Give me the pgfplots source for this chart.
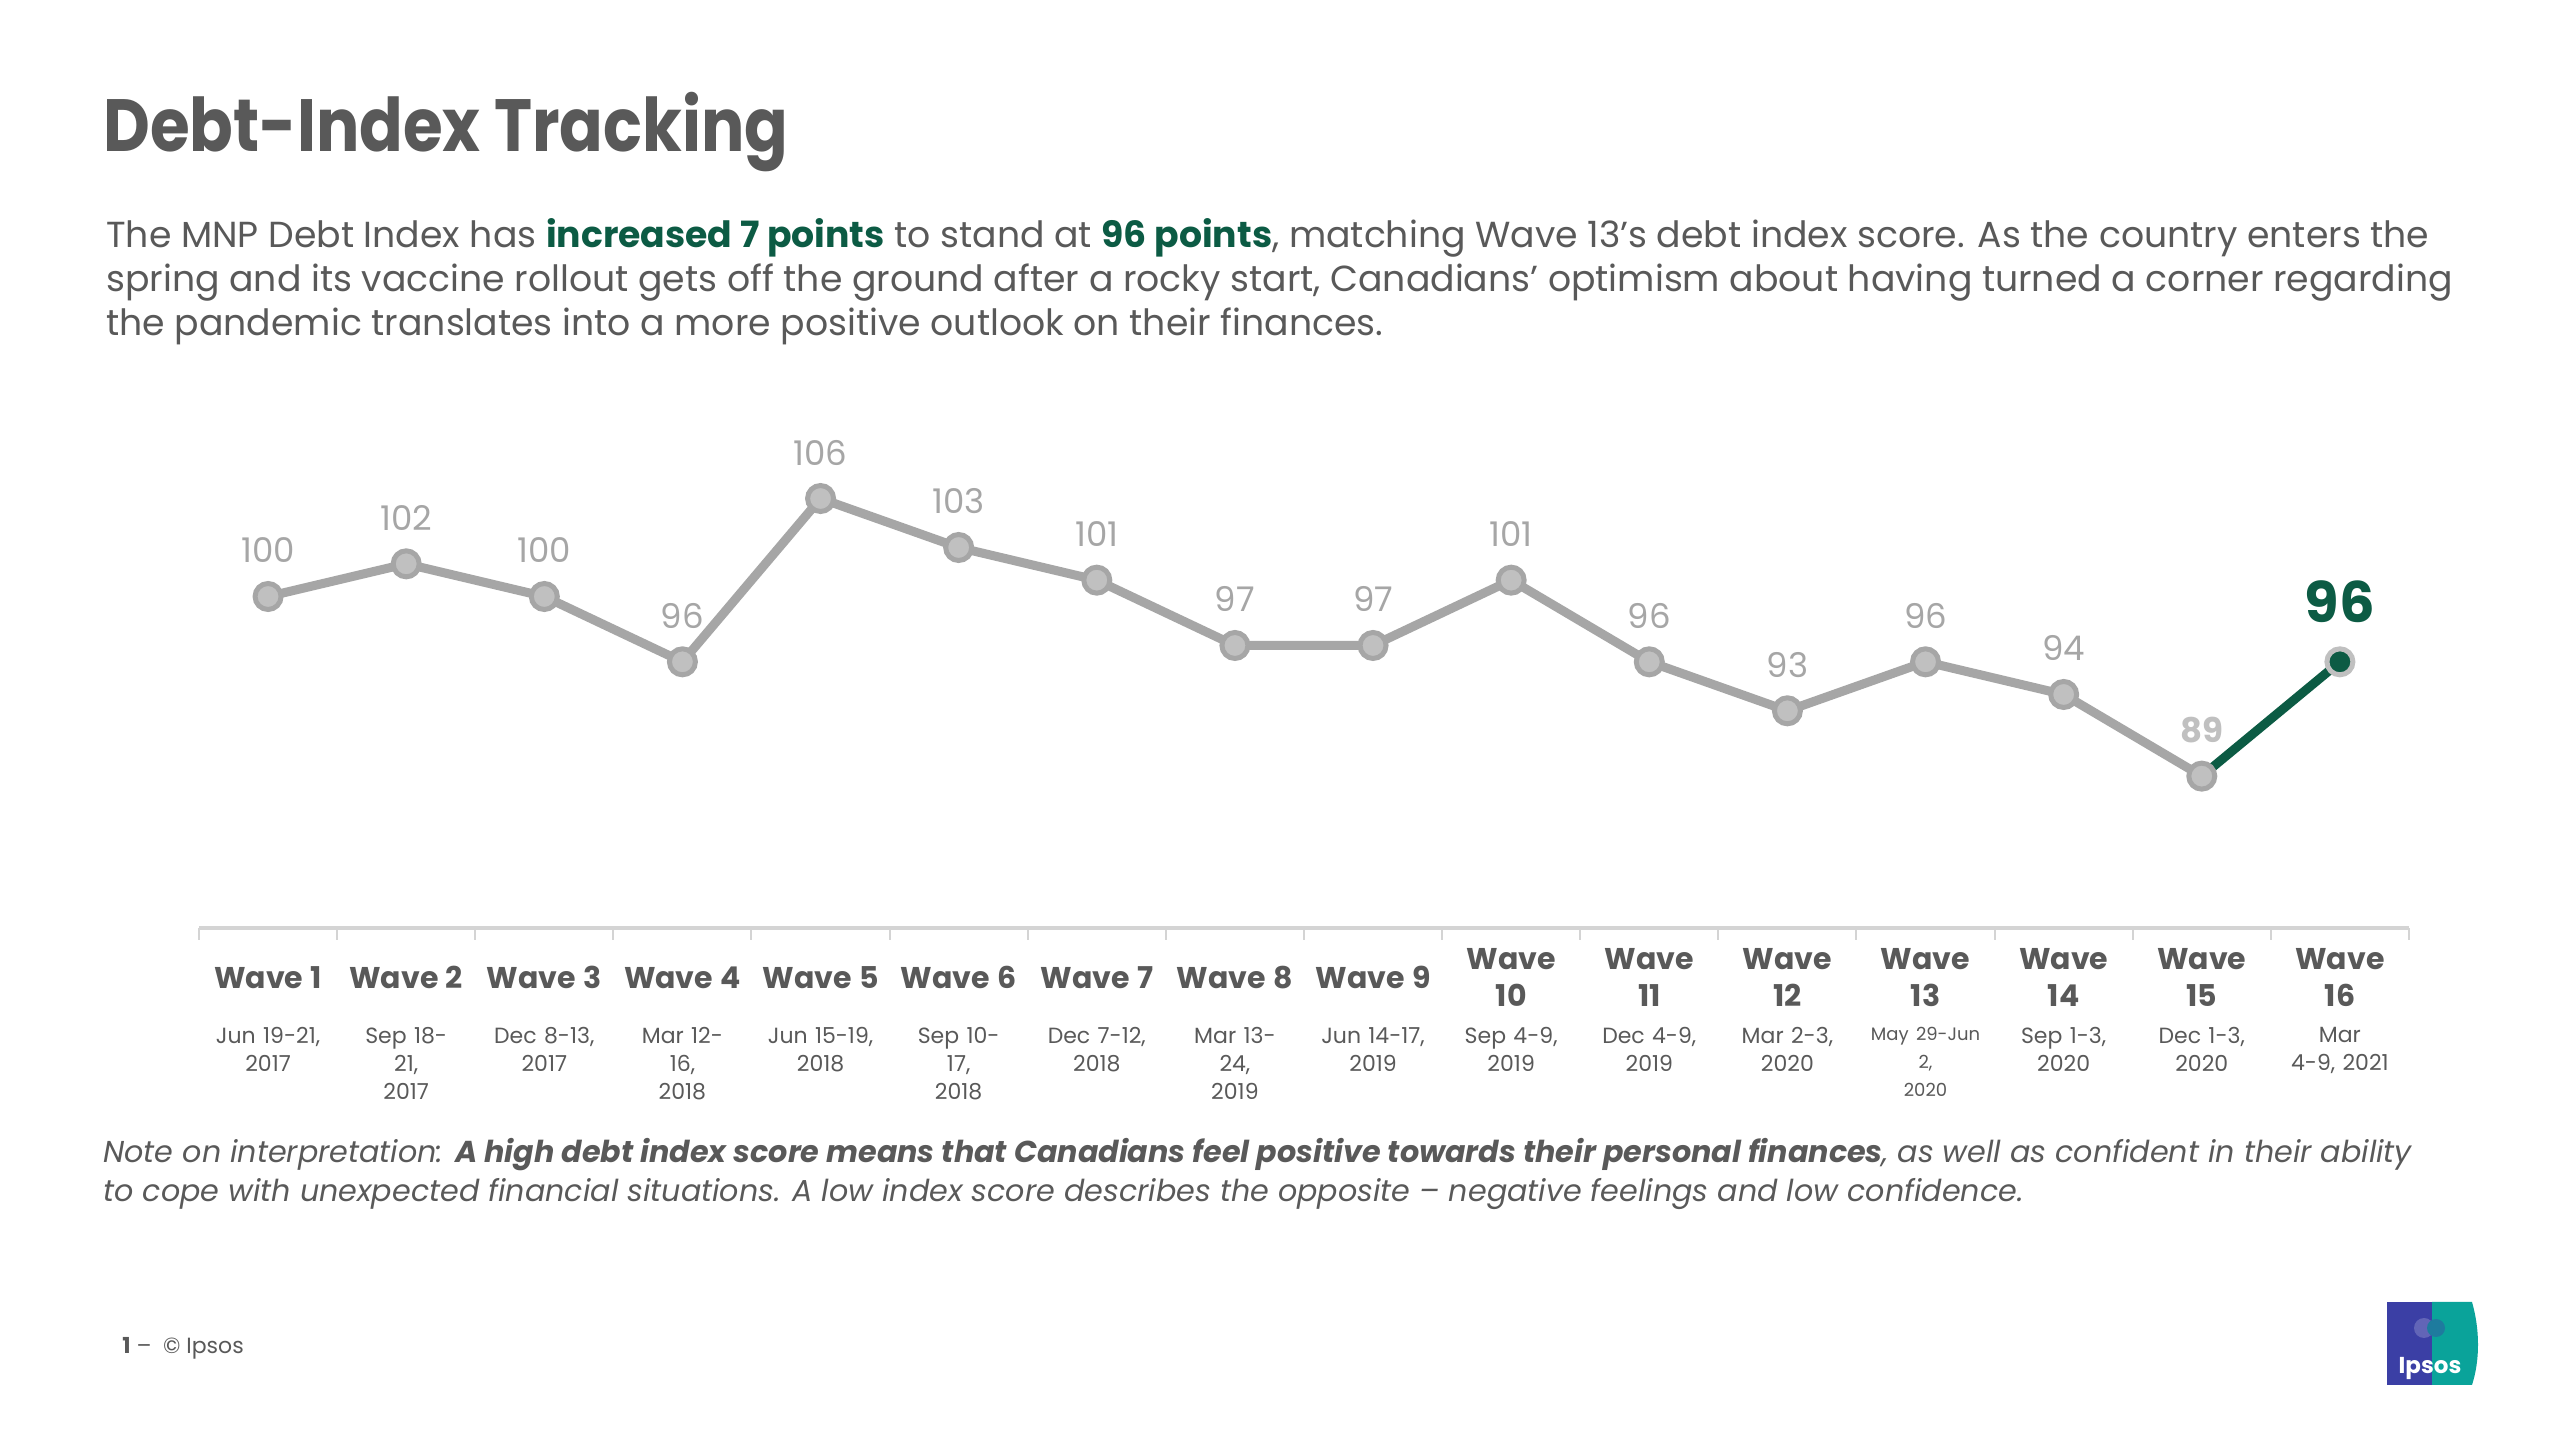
\documentclass[border=0pt]{standalone}
\usepackage{fontspec}
\setmainfont{Poppins}
\newfontfamily\titlefont[FakeStretch=0.87]{Poppins}
\usepackage{pgfplots}
\pgfplotsset{compat=1.18}
\definecolor{txt}{HTML}{595959}
\definecolor{grn}{HTML}{0C5B44}
\definecolor{lgray}{HTML}{A6A6A6}
\definecolor{mfill}{HTML}{C0C0C0}
\definecolor{axgray}{HTML}{D4D4D4}
\definecolor{ipblue}{HTML}{3B3FA5}
\definecolor{ipteal}{HTML}{0AA39A}
\newcommand{\wv}[2]{\parbox[c][40pt][c]{72pt}{\centering\bfseries\fontsize{15}{18.8}\selectfont #1}\\[4pt]#2}
\begin{document}
\begin{tikzpicture}
\path[fill=white] (0pt,0pt) rectangle (1280pt,720pt);
% title
\node[anchor=base west, inner sep=0pt, text=txt, font=\titlefont\fontsize{37}{44}\selectfont\bfseries] at (51.5pt,644pt) {Debt-Index Tracking};
% paragraph
\begin{scope}[every node/.style={anchor=base west, inner sep=0pt, text=txt, font=\fontsize{18.1}{22}\selectfont}]
\node at (53pt,596pt) {The MNP Debt Index has \textcolor{grn}{\bfseries increased 7 points} to stand at \textcolor{grn}{\bfseries 96 points}, matching Wave 13’s debt index score. As the country enters the};
\node at (53pt,574pt) {spring and its vaccine rollout gets off the ground after a rocky start, Canadians’ optimism about having turned a corner regarding};
\node at (53pt,552pt) {the pandemic translates into a more positive outlook on their finances.};
\end{scope}
\begin{axis}[
  at={(99.5pt,256pt)}, anchor=south west,
  scale only axis, width=1105pt, height=247.4pt,
  xmin=0.5, xmax=16.5, ymin=79.7, ymax=110,
  axis x line*=bottom, axis y line=none,
  axis line style={axgray, line width=2pt},
  clip=false,
  xtick={1,...,16}, major tick length=0pt,
  minor xtick={0.5,1.5,...,16.5}, minor tick length=6pt,
  tick align=outside,
  minor tick style={axgray, line width=1pt},
  xticklabel style={font=\fontsize{11}{13.9}\selectfont, text=txt, text width=72pt, align=center, anchor=north, inner sep=0pt, yshift=-4.5pt},
  xticklabels={
    {\wv{Wave 1}{Jun 19-21,\\2017}},
    {\wv{Wave 2}{Sep 18-\\21,\\2017}},
    {\wv{Wave 3}{Dec 8-13,\\2017}},
    {\wv{Wave 4}{Mar 12-\\16,\\2018}},
    {\wv{Wave 5}{Jun 15-19,\\2018}},
    {\wv{Wave 6}{Sep 10-\\17,\\2018}},
    {\wv{Wave 7}{Dec 7-12,\\2018}},
    {\wv{Wave 8}{Mar 13-\\24,\\2019}},
    {\wv{Wave 9}{Jun 14-17,\\2019}},
    {\wv{Wave\\10}{Sep 4-9,\\2019}},
    {\wv{Wave\\11}{Dec 4-9,\\2019}},
    {\wv{Wave\\12}{Mar 2-3,\\2020}},
    {\wv{Wave\\13}{{\fontsize{9}{11}\selectfont May 29-Jun}\\{\fontsize{9}{11}\selectfont 2,}\\{\fontsize{9}{11}\selectfont 2020}}},
    {\wv{Wave\\14}{Sep 1-3,\\2020}},
    {\wv{Wave\\15}{Dec 1-3,\\2020}},
    {\wv{Wave\\16}{Mar\\4-9, 2021}}
  },
]
\addplot[lgray, line width=4.5pt, line join=round] coordinates {
(1,100) (2,102) (3,100) (4,96) (5,106) (6,103) (7,101) (8,97) (9,97) (10,101) (11,96) (12,93) (13,96) (14,94) (15,89)};
\addplot[grn, line width=4.5pt] coordinates {(15,89) (16,96)};
\addplot[only marks, mark=*, mark size=6.5pt, mark options={draw=lgray, fill=mfill, line width=2.5pt},
  nodes near coords, point meta=explicit symbolic,
  every node near coord/.append style={anchor=center, yshift=23pt, text=lgray, font=\fontsize{17}{20}\selectfont}]
coordinates {
(1,100) [100] (2,102) [102] (3,100) [100] (4,96) [96] (5,106) [106] (6,103) [103] (7,101) [101] (8,97) [97] (9,97) [97] (10,101) [101] (11,96) [96] (12,93) [93] (13,96) [96] (14,94) [94]};
\addplot[only marks, mark=*, mark size=6.5pt, mark options={draw=lgray, fill=mfill, line width=2.5pt},
  nodes near coords, point meta=explicit symbolic,
  every node near coord/.append style={anchor=center, yshift=23pt, text=mfill, font=\fontsize{17}{20}\selectfont\bfseries}]
coordinates {(15,89) [89]};
\addplot[only marks, mark=*, mark size=6.5pt, mark options={draw=mfill, fill=grn, line width=2.5pt},
  nodes near coords, point meta=explicit symbolic,
  every node near coord/.append style={anchor=center, yshift=30pt, text=grn, font=\fontsize{28}{32}\selectfont\bfseries}]
coordinates {(16,96) [96]};
\end{axis}
% note
\begin{scope}[every node/.style={anchor=base west, inner sep=0pt, text=txt, font=\fontsize{15.1}{19}\selectfont\itshape}]
\node at (51.5pt,138.5pt) {Note on interpretation: {\bfseries A high debt index score means that Canadians feel positive towards their personal finances}, as well as confident in their ability};
\node at (51.5pt,119pt) {to cope with unexpected financial situations. A low index score describes the opposite – negative feelings and low confidence.};
\end{scope}
% footer
\node[anchor=base west, inner sep=0pt, text=txt, font=\fontsize{11}{13}\selectfont] at (61pt,43pt) {\textbf{1} –\ \ © Ipsos};
% logo
\fill[ipblue] (1193.5pt,27.5pt) rectangle (1216pt,69pt);
\fill[ipteal] (1216pt,27.5pt) -- (1216pt,69pt) -- (1236pt,69pt) .. controls (1240pt,55pt) and (1240pt,40pt) .. (1236pt,27.5pt) -- cycle;
\fill[ipblue!80!white] (1212pt,56pt) circle (5pt);
\fill[ipteal!60!ipblue] (1218pt,56pt) circle (4.5pt);
\node[text=white, font=\fontsize{11.5}{13}\selectfont\bfseries, inner sep=0pt] at (1215pt,36pt) {Ipsos};
\end{tikzpicture}
\end{document}
